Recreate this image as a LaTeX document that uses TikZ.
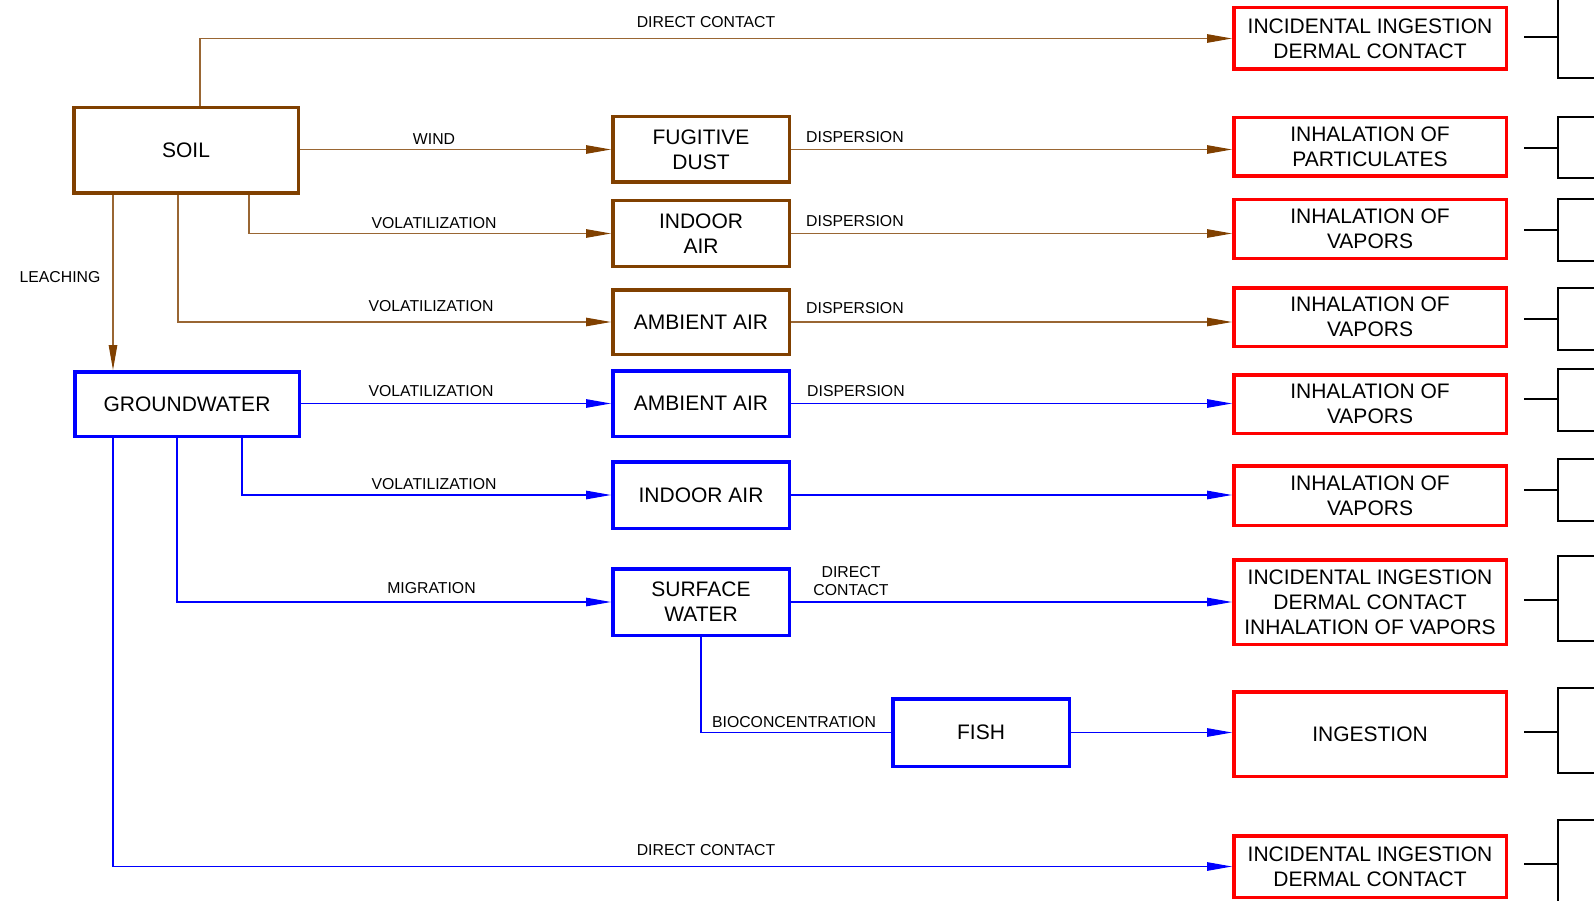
\documentclass[tikz,border=0pt]{standalone}
\usepackage{fontspec}
\setmainfont{Liberation Sans}
\usetikzlibrary{arrows.meta}
\definecolor{soilbrown}{RGB}{128,64,0}
\definecolor{wblue}{RGB}{0,0,255}
\definecolor{rred}{RGB}{255,0,0}
\newcommand\bigtxt{\fontsize{21}{25}\selectfont}
\newcommand\smalltxt{\fontsize{15.8}{18}\selectfont}
\begin{document}
\begin{tikzpicture}[x=1pt,y=-1pt,
  basebox/.style={draw, line width=3.5pt, inner sep=0pt, align=center, font=\bigtxt, fill=white},
  bbox/.style={basebox, draw=soilbrown, minimum width=176.5pt},
  wbox/.style={basebox, draw=wblue, minimum width=176.5pt},
  rbox/.style={basebox, draw=rred, minimum width=272.5pt},
  lbl/.style={inner sep=0pt, font=\smalltxt, align=center},
  bcon/.style={draw=soilbrown!80, line width=1.1pt},
  wcon/.style={draw=wblue, line width=1.2pt},
  tip/.style={-{Triangle[length=25pt,width=8.5pt]}},
  btip/.style={-{Triangle[length=25pt,width=8.5pt,color=soilbrown]}},
  brk/.style={draw=black, line width=2pt}
]
\clip (0,0) rectangle (1594,901);
\fill[white] (0,0) rectangle (1594,901);

% source boxes
\node[bbox, minimum width=224.5pt, minimum height=85.5pt] (soil) at (186,150.5) {SOIL};
\node[wbox, minimum width=224.5pt, minimum height=64.5pt] (gw) at (187,404) {GROUNDWATER};

% middle boxes
\node[bbox, minimum height=65.5pt] (fug) at (701,149.5) {FUGITIVE\\DUST};
\node[bbox, minimum height=65.5pt] (inb) at (701,233.5) {INDOOR\\AIR};
\node[bbox, minimum height=64.5pt] (amb) at (701,322) {AMBIENT AIR};
\node[wbox, minimum height=65.5pt] (ambw) at (701,403.5) {AMBIENT AIR};
\node[wbox, minimum height=66.5pt] (inw) at (701,495) {INDOOR AIR};
\node[wbox, minimum height=66.5pt] (sw) at (701,602) {SURFACE\\WATER};
\node[wbox, minimum height=67.5pt] (fish) at (981,732.5) {FISH};

% receptor boxes
\node[rbox, minimum height=61.5pt] (r1) at (1370,38.5) {INCIDENTAL INGESTION\\DERMAL CONTACT};
\node[rbox, minimum height=58.5pt] (r2) at (1370,147) {INHALATION OF\\PARTICULATES};
\node[rbox, minimum height=58.5pt] (r3) at (1370,229) {INHALATION OF\\VAPORS};
\node[rbox, minimum height=58.5pt] (r4) at (1370,317) {INHALATION OF\\VAPORS};
\node[rbox, minimum height=58.5pt] (r5) at (1370,404) {INHALATION OF\\VAPORS};
\node[rbox, minimum height=59.5pt] (r6) at (1370,495.5) {INHALATION OF\\VAPORS};
\node[rbox, minimum height=84.5pt] (r7) at (1370,602) {INCIDENTAL INGESTION\\DERMAL CONTACT\\INHALATION OF VAPORS};
\node[rbox, minimum height=84.5pt] (r8) at (1370,734) {INGESTION};
\node[rbox, minimum height=61.5pt] (r9) at (1370,866.5) {INCIDENTAL INGESTION\\DERMAL CONTACT};

% branch x positions
\coordinate (xa) at (113,0);
\coordinate (xb) at (178,0);
\coordinate (xc) at (249,0);
\coordinate (xd) at (200,0);
\coordinate (xe) at (177,0);
\coordinate (xf) at (242,0);

% soil connectors
\draw[bcon,btip] (soil.north -| xd) |- (r1.west);
\draw[bcon,btip] (soil.east |- fug.west) -- (fug.west);
\draw[bcon,btip] (fug.east) -- (fug.east -| r2.west);
\draw[bcon,btip] (soil.south -| xc) |- (inb.west);
\draw[bcon,btip] (inb.east) -- (inb.east -| r3.west);
\draw[bcon,btip] (soil.south -| xb) |- (amb.west);
\draw[bcon,btip] (amb.east) -- (amb.east -| r4.west);
\draw[bcon,btip] (soil.south -| xa) -- (gw.north -| xa);

% groundwater connectors
\draw[wcon,tip] (gw.east |- ambw.west) -- (ambw.west);
\draw[wcon,tip] (ambw.east) -- (ambw.east -| r5.west);
\draw[wcon,tip] (gw.south -| xf) |- (inw.west);
\draw[wcon,tip] (inw.east) -- (inw.east -| r6.west);
\draw[wcon,tip] (gw.south -| xe) |- (sw.west);
\draw[wcon,tip] (sw.east) -- (sw.east -| r7.west);
\draw[wcon] (sw.south) |- (fish.west);
\draw[wcon,tip] (fish.east) -- (fish.east -| r8.west);
\draw[wcon,tip] (gw.south -| xa) |- (r9.west);

% labels
\node[lbl] (l1) at (706,22) {DIRECT CONTACT};
\node[lbl] (l2) at (434,139) {WIND};
\node[lbl,anchor=west] (l3) at (806,137) {DISPERSION};
\node[lbl] (l4) at (434,223) {VOLATILIZATION};
\node[lbl,anchor=west] (l5) at (806,221) {DISPERSION};
\node[lbl] (l6) at (60,277) {LEACHING};
\node[lbl] (l7) at (431,306) {VOLATILIZATION};
\node[lbl,anchor=west] (l8) at (806,308) {DISPERSION};
\node[lbl] (l9) at (431,391) {VOLATILIZATION};
\node[lbl,anchor=west] (l10) at (807,391) {DISPERSION};
\node[lbl] (l11) at (434,484) {VOLATILIZATION};
\node[lbl] (l12) at (431.5,588) {MIGRATION};
\node[lbl] (l13) at (851,581) {DIRECT\\CONTACT};
\node[lbl] (l14) at (794,722) {BIOCONCENTRATION};
\node[lbl] (l15) at (706,850) {DIRECT CONTACT};

% right-hand brackets: stub y, top y, bottom y
\foreach \s/\t/\b in {37/-10/78, 148/117/178, 230/199/261, 319/288/350, 399/369/431, 490/459/521, 600/556/641, 732/688/773, 864/820/920}{
  \draw[brk] (1524,\s) -- (1558,\s);
  \draw[brk] (1600,\t) -- (1558,\t) -- (1558,\b) -- (1600,\b);
}
\end{tikzpicture}
\end{document}
